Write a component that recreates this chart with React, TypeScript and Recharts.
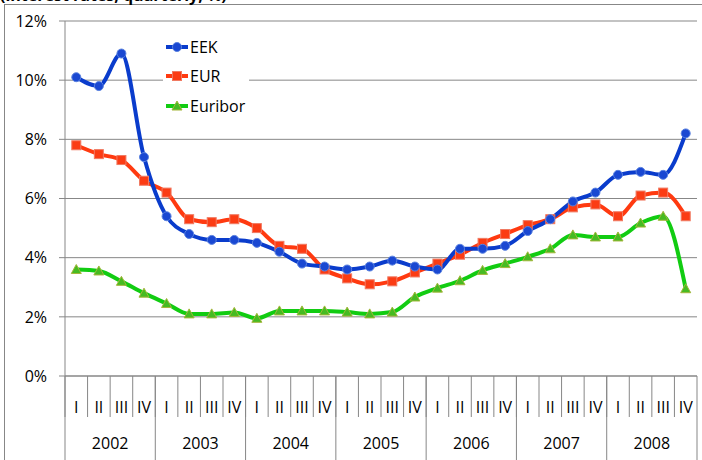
import { LineChart, Line, XAxis, YAxis, CartesianGrid, Legend } from 'recharts';

const years = ['2002', '2003', '2004', '2005', '2006', '2007', '2008'];
const quarterNames = ['I', 'II', 'III', 'IV'];
const yTicks = [0, 2, 4, 6, 8, 10, 12];

const eek = [
  10.1, 9.8, 10.9, 7.4,
  5.4, 4.8, 4.6, 4.6,
  4.5, 4.2, 3.8, 3.7,
  3.6, 3.7, 3.9, 3.7,
  3.6, 4.3, 4.3, 4.4,
  4.9, 5.3, 5.9, 6.2,
  6.8, 6.9, 6.8, 8.2,
];
const eur = [
  7.8, 7.5, 7.3, 6.6,
  6.2, 5.3, 5.2, 5.3,
  5.0, 4.4, 4.3, 3.6,
  3.3, 3.1, 3.2, 3.5,
  3.8, 4.1, 4.5, 4.8,
  5.1, 5.3, 5.7, 5.8,
  5.4, 6.1, 6.2, 5.4,
];
const euribor = [
  3.6, 3.55, 3.2, 2.8,
  2.45, 2.1, 2.1, 2.15,
  1.95, 2.2, 2.2, 2.2,
  2.16, 2.1, 2.16, 2.67,
  2.97, 3.22, 3.57, 3.8,
  4.03, 4.3, 4.77, 4.7,
  4.7, 5.17, 5.4, 2.95,
];

const data = eek.map((v, i) => ({
  year: years[Math.floor(i / 4)],
  q: quarterNames[i % 4],
  EEK: v,
  EUR: eur[i],
  Euribor: euribor[i],
}));

const W = 702;
const H = 460;
const M = { top: 21, right: 5, bottom: 0, left: 0 };
const Y_W = 65;
const Q_H = 41;
const YR_H = 43;
const plotW = W - M.left - M.right - Y_W;
const qBand = plotW / data.length;
const yrBand = plotW / years.length;

const gray = '#878787';
const font = '"Open Sans", sans-serif';

const BLUE = '#0a3ccc';
const RED = '#ff3a10';
const GREEN = '#12cc12';

function BlueDot(props: any) {
  const { cx, cy, index } = props;
  return <circle key={`b${index}`} cx={cx} cy={cy} r={4.5} fill="#1a48d2" stroke="#5a82e0" strokeWidth={1} />;
}

function RedDot(props: any) {
  const { cx, cy, index } = props;
  return <rect key={`r${index}`} x={cx - 4.5} y={cy - 4.5} width={9} height={9} fill="#fb3c14" stroke="#f07a62" strokeWidth={1} />;
}

function GreenDot(props: any) {
  const { cx, cy, index } = props;
  const s = 5;
  return (
    <polygon
      key={`g${index}`}
      points={`${cx},${cy - s} ${cx + s},${cy + s * 0.8} ${cx - s},${cy + s * 0.8}`}
      fill="#46bb22"
      stroke="#a3b63a"
      strokeWidth={1}
    />
  );
}

function QuarterTick(props: any) {
  const { x, y, payload } = props;
  const sx = x - qBand / 2;
  return (
    <g>
      <line x1={sx} y1={y} x2={sx} y2={y + Q_H} stroke={gray} />
      <text x={x} y={y + 31} dy="0.35em" textAnchor="middle" fontFamily={font} fontSize={16} fill="#000">
        {payload.value}
      </text>
    </g>
  );
}

function YearTick(props: any) {
  const { x, y, payload, index } = props;
  const sx = x - yrBand / 2;
  const ex = x + yrBand / 2;
  return (
    <g>
      <line x1={sx} y1={y - Q_H} x2={sx} y2={y + YR_H} stroke={gray} />
      {index === years.length - 1 && <line x1={ex} y1={y - Q_H} x2={ex} y2={y + YR_H} stroke={gray} />}
      <text x={x} y={y + 26} dy="0.35em" textAnchor="middle" fontFamily={font} fontSize={16} fill="#000">
        {payload.value}
      </text>
    </g>
  );
}

const legendItems = [
  { name: 'EEK', color: BLUE, Dot: BlueDot },
  { name: 'EUR', color: RED, Dot: RedDot },
  { name: 'Euribor', color: GREEN, Dot: GreenDot },
];

function LegendBox() {
  return (
    <div style={{ background: '#fff', padding: '0 4px 0 2px' }}>
      {legendItems.map(({ name, color, Dot }) => (
        <div key={name} style={{ display: 'flex', alignItems: 'center', height: 29.5 }}>
          <svg width={24} height={14} style={{ display: 'block' }}>
            <line x1={1} y1={7} x2={23} y2={7} stroke={color} strokeWidth={4} />
            <Dot cx={12} cy={7} index={0} />
          </svg>
          <span style={{ fontFamily: font, fontSize: 16, color: '#000', marginLeft: 1 }}>{name}</span>
        </div>
      ))}
    </div>
  );
}

export default function App() {
  return (
    <div style={{ position: 'absolute', left: 0, top: 0, width: W, height: H, overflow: 'hidden', background: '#fff' }}>
      <div
        style={{
          position: 'absolute',
          left: 4,
          top: 4,
          width: W + 20,
          height: H + 20,
          border: `1px solid ${gray}`,
        }}
      />
      <svg width={W} height={10} style={{ position: 'absolute', left: 0, top: 0 }}>
        <text x={0} y={1} fontFamily={font} fontSize={16} fontWeight="bold" fill="#000">
          (interest rates, quarterly, %)
        </text>
      </svg>
      <div style={{ position: 'absolute', left: 0, top: 0 }}>
        <LineChart width={W} height={H} data={data} margin={M}>
          <CartesianGrid horizontal vertical={false} stroke={gray} strokeDasharray="" />
          <XAxis
            xAxisId="q"
            dataKey="q"
            padding={{ left: qBand / 2, right: qBand / 2 }}
            height={Q_H}
            interval={0}
            axisLine={{ stroke: gray }}
            tickLine={false}
            tickSize={0}
            tickMargin={0}
            tick={<QuarterTick />}
          />
          <XAxis
            xAxisId="yr"
            dataKey="year"
            allowDuplicatedCategory={false}
            padding={{ left: yrBand / 2, right: yrBand / 2 }}
            height={YR_H}
            interval={0}
            axisLine={false}
            tickLine={false}
            tickSize={0}
            tickMargin={0}
            tick={<YearTick />}
          />
          <YAxis
            width={Y_W}
            domain={[0, 12]}
            ticks={yTicks}
            interval={0}
            tickFormatter={(v: number) => `${v}%`}
            axisLine={{ stroke: gray }}
            tickLine={{ stroke: gray }}
            tickSize={6}
            tickMargin={12}
            tick={{ fontFamily: font, fontSize: 16, fill: '#000' }}
          />
          <Legend
            layout="vertical"
            align="center"
            verticalAlign="middle"
            content={<LegendBox />}
            wrapperStyle={{ left: 163, top: 32, width: 'auto' }}
          />
          <Line
            xAxisId="q"
            type="monotone"
            dataKey="Euribor"
            stroke={GREEN}
            strokeWidth={4}
            dot={<GreenDot />}
            activeDot={false}
            isAnimationActive={false}
          />
          <Line
            xAxisId="q"
            type="monotone"
            dataKey="EUR"
            stroke={RED}
            strokeWidth={4}
            dot={<RedDot />}
            activeDot={false}
            isAnimationActive={false}
          />
          <Line
            xAxisId="q"
            type="monotone"
            dataKey="EEK"
            stroke={BLUE}
            strokeWidth={4}
            dot={<BlueDot />}
            activeDot={false}
            isAnimationActive={false}
          />
        </LineChart>
      </div>
    </div>
  );
}
